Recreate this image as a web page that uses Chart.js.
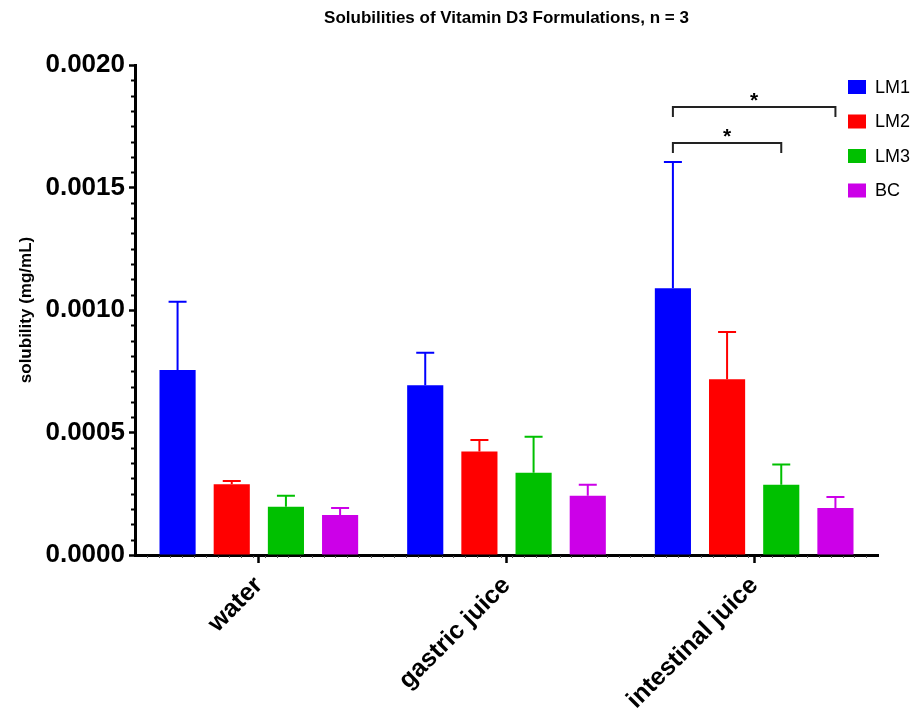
<!DOCTYPE html>
<html>
<head>
<meta charset="utf-8">
<script src="https://cdn.jsdelivr.net/npm/chart.js@4.4.1/dist/chart.umd.min.js"></script>
<style>
  html, body { margin: 0; padding: 0; background: #fff; }
  #wrap { width: 915px; height: 718px; }
</style>
</head>
<body>
<div id="wrap"><canvas id="chart"></canvas></div>
<script>
const categories = ['water', 'gastric juice', 'intestinal juice'];
const seriesNames = ['LM1', 'LM2', 'LM3', 'BC'];
const seriesColors = ['#0000ff', '#ff0000', '#00c000', '#cc00e8'];

// mean solubility (mg/mL)
const lm1 = [0.000755, 0.000693, 0.001089];
const lm2 = [0.000289, 0.000422, 0.000717];
const lm3 = [0.000197, 0.000336, 0.000287];
const bc = [0.000163, 0.000242, 0.000192];

// upper error (SD)
const lm1Sd = [0.000279, 0.000133, 0.000515];
const lm2Sd = [0.000013, 0.000047, 0.000193];
const lm3Sd = [0.000045, 0.000147, 0.000082];
const bcSd = [0.000029, 0.000045, 0.000045];

const yMin = 0;
const yMax = 0.002;
const yStep = 0.0005;
const yMinorPerStep = 8;

// significance brackets (all in intestinal juice): [from series, to series]
const sigCategory = 2;
const sigPairs = [[0, 2], [0, 3]];
const sigHeights = [0.00168, 0.00183];
const sigLabels = ['*', '*'];

const FONT = "'Liberation Sans', Arial, sans-serif";

const seriesValues = [lm1, lm2, lm3, bc];
const seriesSd = [lm1Sd, lm2Sd, lm3Sd, bcSd];

// error bars, minor ticks, brackets and the legend
const extras = {
    id: 'extras',
    afterDatasetsDraw(chart) {
        const ctx = chart.ctx;
        const y = chart.scales.y;
        const x = chart.scales.x;
        const area = chart.chartArea;
        ctx.save();

        // error bars (upper only)
        chart.data.datasets.forEach((ds, i) => {
            chart.getDatasetMeta(i).data.forEach((bar, j) => {
                const top = y.getPixelForValue(ds.data[j] + ds.sd[j]);
                ctx.strokeStyle = ds.backgroundColor;
                ctx.lineWidth = 2;
                ctx.beginPath();
                ctx.moveTo(bar.x, bar.y);
                ctx.lineTo(bar.x, top);
                ctx.moveTo(bar.x - 9, top);
                ctx.lineTo(bar.x + 9, top);
                ctx.stroke();
            });
        });

        // minor ticks on y axis
        ctx.strokeStyle = '#000';
        ctx.lineWidth = 2;
        const minor = yStep / yMinorPerStep;
        for (let k = 1; k < (yMax - yMin) / minor; k++) {
            if (k % yMinorPerStep === 0) continue;
            const py = Math.round(y.getPixelForValue(yMin + k * minor)) + 0.5;
            ctx.beginPath();
            ctx.moveTo(area.left - 4, py);
            ctx.lineTo(area.left, py);
            ctx.stroke();
        }

        // minor dots under x axis
        ctx.strokeStyle = '#555';
        ctx.lineWidth = 1;
        const catW = x.getPixelForValue(1) - x.getPixelForValue(0);
        for (let px = area.left + catW / 21; px < area.right; px += catW / 21) {
            ctx.beginPath();
            ctx.moveTo(Math.round(px) + 0.5, area.bottom + 1);
            ctx.lineTo(Math.round(px) + 0.5, area.bottom + 3);
            ctx.stroke();
        }

        // significance brackets
        ctx.strokeStyle = '#222';
        ctx.lineWidth = 2;
        ctx.fillStyle = '#000';
        ctx.font = 'bold 21px ' + FONT;
        ctx.textAlign = 'center';
        ctx.textBaseline = 'middle';
        sigPairs.forEach((pair, k) => {
            const x1 = chart.getDatasetMeta(pair[0]).data[sigCategory].x;
            const x2 = chart.getDatasetMeta(pair[1]).data[sigCategory].x;
            const py = Math.round(y.getPixelForValue(sigHeights[k]));
            ctx.beginPath();
            ctx.moveTo(x1, py + 10);
            ctx.lineTo(x1, py);
            ctx.lineTo(x2, py);
            ctx.lineTo(x2, py + 10);
            ctx.stroke();
            ctx.fillText(sigLabels[k], (x1 + x2) / 2, py - 6);
        });

        // legend
        ctx.textAlign = 'left';
        ctx.font = '18px ' + FONT;
        chart.data.datasets.forEach((ds, i) => {
            const cy = 87 + i * 34.5;
            ctx.fillStyle = ds.backgroundColor;
            ctx.fillRect(848, cy - 7, 18, 14);
            ctx.fillStyle = '#000';
            ctx.fillText(ds.label, 875, cy + 1);
        });

        ctx.restore();
    },
};

new Chart(document.getElementById('chart'), {
    type: 'bar',
    data: {
        labels: categories,
        datasets: seriesNames.map((name, i) => ({
            label: name,
            data: seriesValues[i],
            sd: seriesSd[i],
            backgroundColor: seriesColors[i],
            borderWidth: 0,
            categoryPercentage: 0.875,
            barPercentage: 0.667,
        })),
    },
    options: {
        responsive: true,
        maintainAspectRatio: false,
        animation: false,
        layout: {
            padding: { left: 0, right: 37, top: 0, bottom: 0 },
        },
        plugins: {
            legend: { display: false },
            tooltip: { enabled: false },
            title: {
                display: true,
                fullSize: false,
                text: 'Solubilities of Vitamin D3 Formulations, n = 3',
                color: '#000',
                font: { family: FONT, size: 17, weight: 'bold' },
                padding: { top: 8, bottom: 36.6 },
            },
        },
        scales: {
            x: {
                offset: true,
                border: { color: '#000', width: 3 },
                grid: {
                    offset: false,
                    drawOnChartArea: false,
                    drawTicks: true,
                    tickLength: 8,
                    tickWidth: 2.5,
                    tickColor: '#000',
                },
                ticks: {
                    color: '#000',
                    autoSkip: false,
                    minRotation: 45,
                    maxRotation: 45,
                    padding: 8,
                    font: { family: FONT, size: 25, weight: 'bold' },
                },
                afterFit(scale) {
                    scale.height = 163;
                },
            },
            y: {
                min: yMin,
                max: yMax,
                border: { color: '#000', width: 3 },
                grid: {
                    drawOnChartArea: false,
                    drawTicks: true,
                    tickLength: 6,
                    tickWidth: 2.5,
                    tickColor: '#000',
                },
                ticks: {
                    stepSize: yStep,
                    color: '#000',
                    padding: 4,
                    font: { family: FONT, size: 26, weight: 'bold' },
                    callback: (value) => Number(value).toFixed(4),
                },
                title: {
                    display: true,
                    text: 'solubility (mg/mL)',
                    color: '#000',
                    font: { family: FONT, size: 17, weight: 'bold' },
                    padding: { top: 16, bottom: 0 },
                },
                afterFit(scale) {
                    scale.width = 135;
                },
            },
        },
    },
    plugins: [extras],
});
</script>
</body>
</html>
